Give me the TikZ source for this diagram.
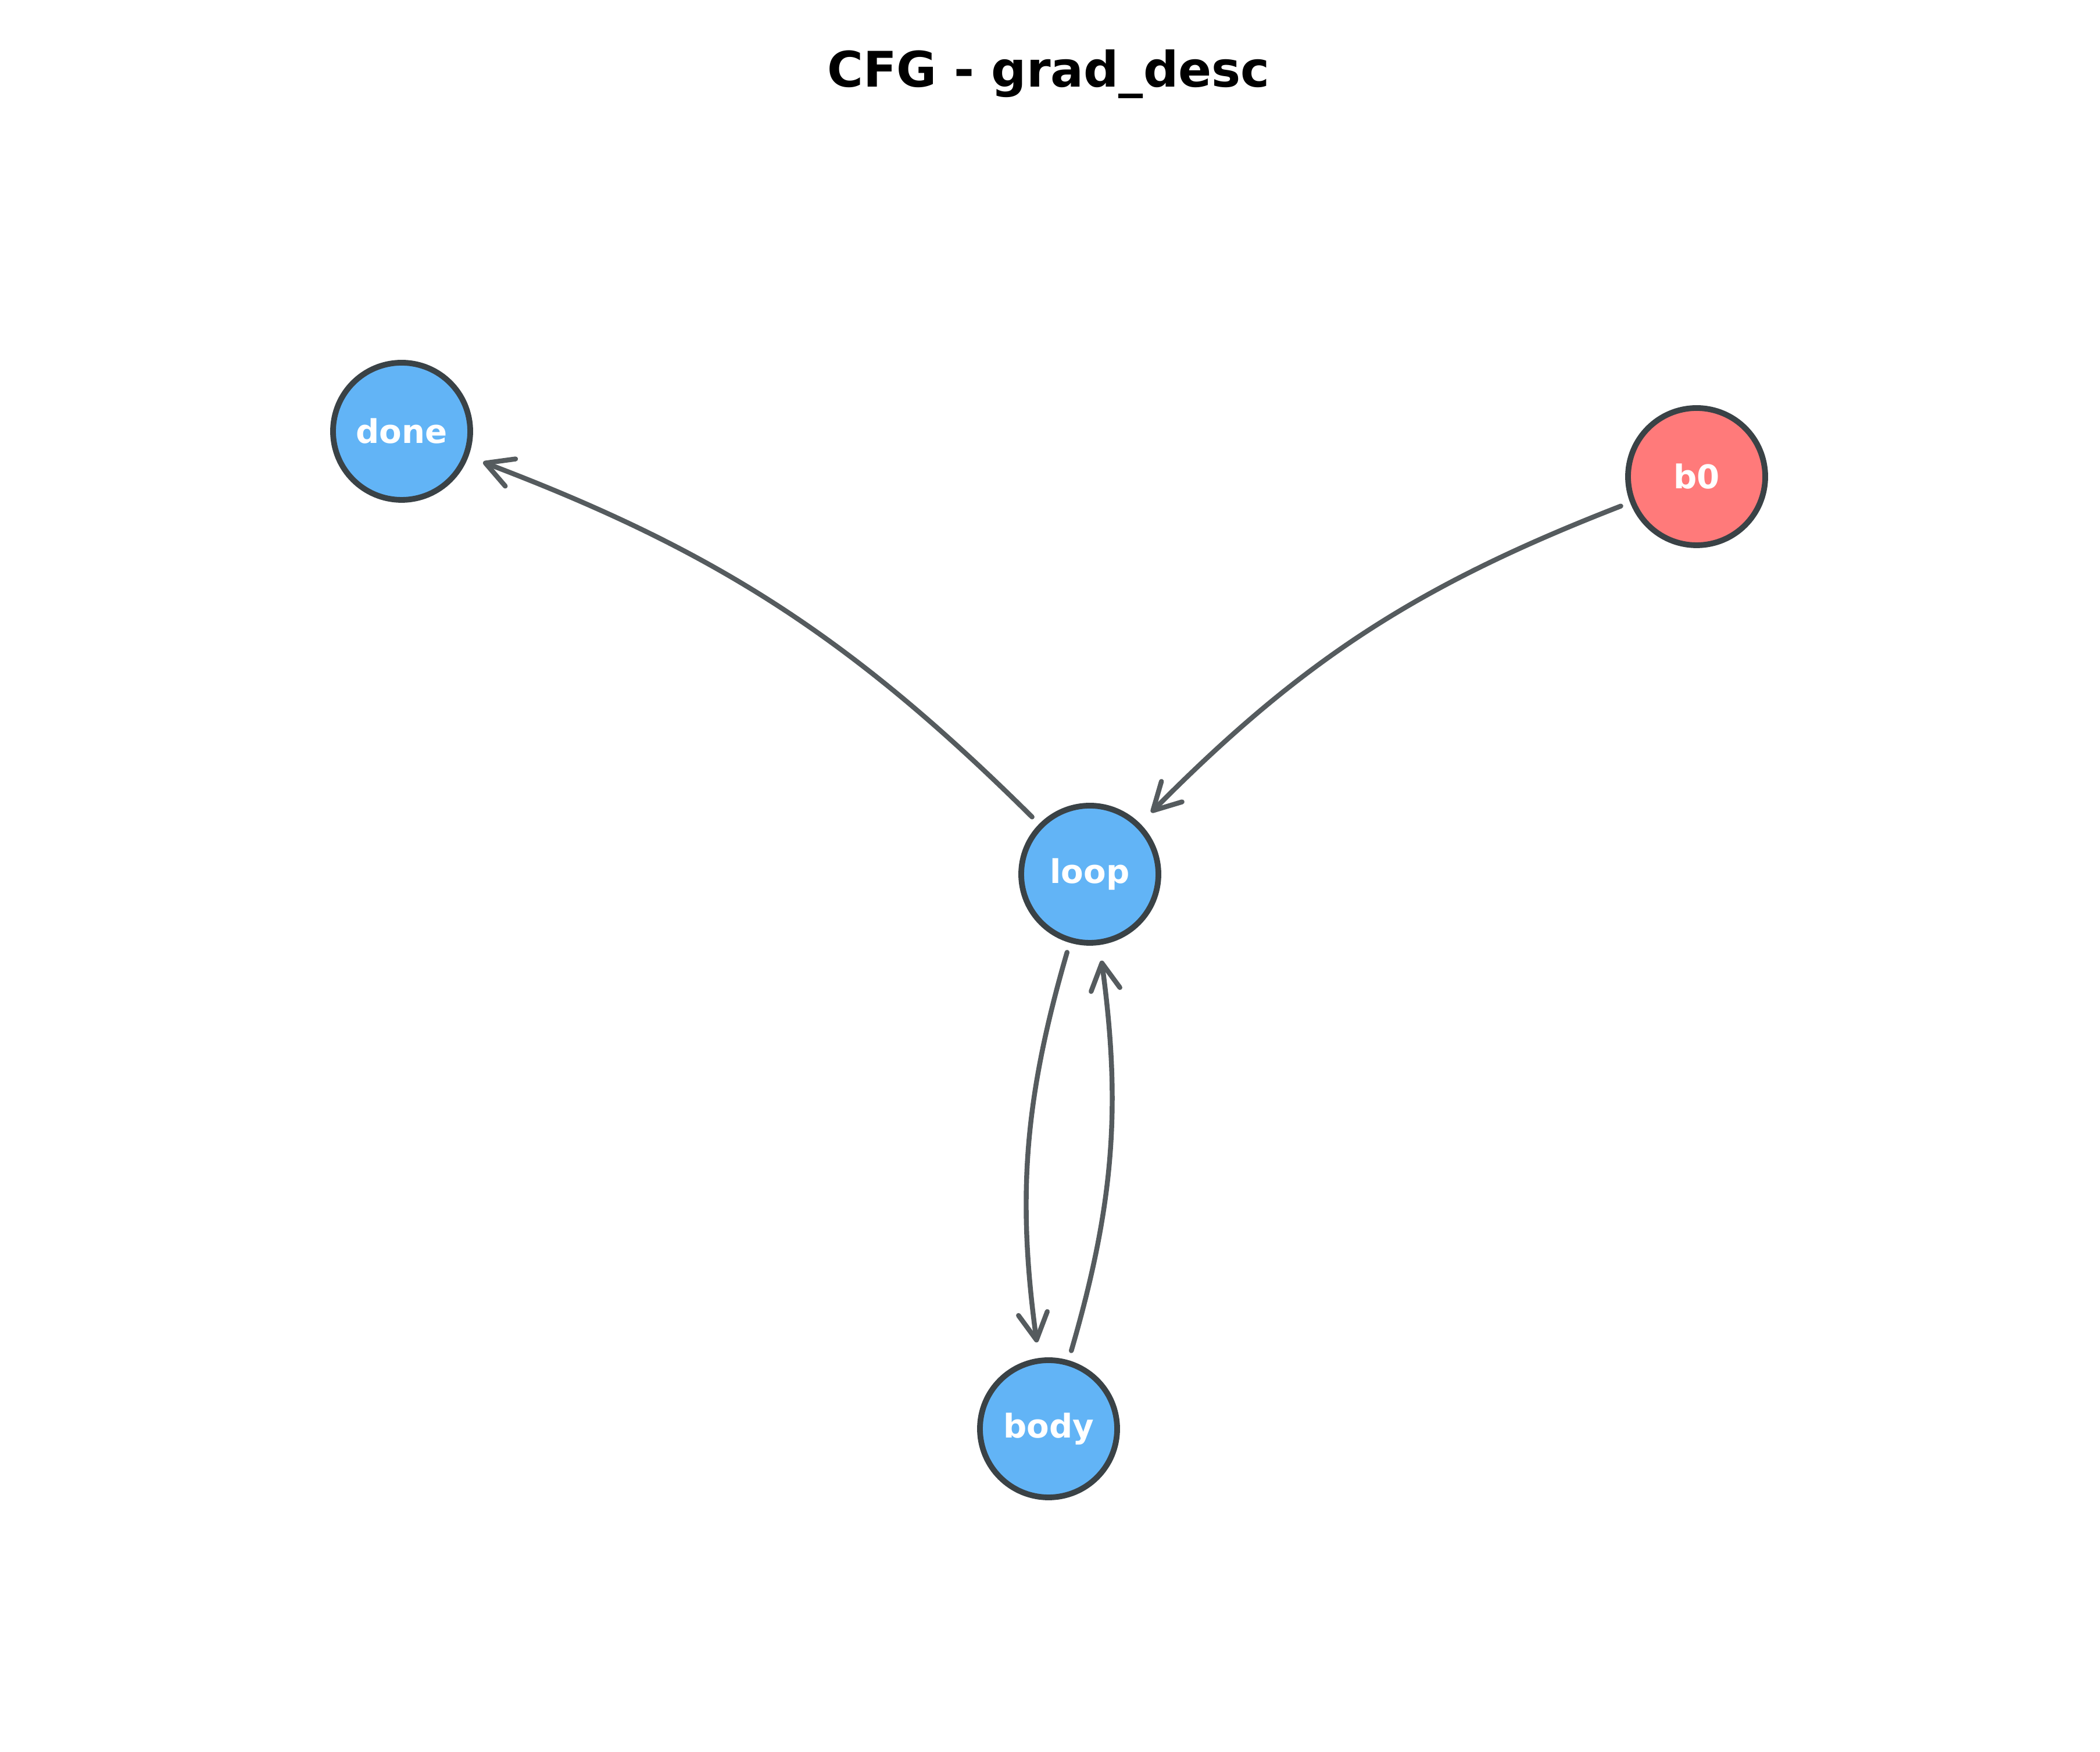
\documentclass[tikz,border=0pt]{standalone}
\usepackage{fontspec}
\setmainfont{DejaVu Sans}
\usetikzlibrary{arrows.meta}

\definecolor{blockblue}{HTML}{62B4F6}
\definecolor{blockred}{HTML}{FF7A7A}
\definecolor{bordergray}{HTML}{3A4246}
\definecolor{edgegray}{HTML}{555B5E}

\begin{document}
\begin{tikzpicture}

\tikzstyle{blk} = [circle, minimum size=2.36cm, inner sep=0pt, draw=bordergray, line width=2.8pt, text=white, font=\fontsize{16}{19}\selectfont\bfseries]
\tikzstyle{flow} = [draw=edgegray, line width=2.4pt, line cap=round, -{Straight Barb[length=4.6mm,width=5mm,round]}, shorten <=0.17cm, shorten >=0.27cm]

\useasboundingbox (0,0) rectangle (36.13,30.14);
\node (title) at (18.04,28.87) {\fontsize{24}{29}\selectfont\bfseries CFG - grad\_desc};
\node (done) [blk, fill=blockblue] at (6.91,22.72) {done};
\node (b0) [blk, fill=blockred] at (29.19,21.94) {b0};
\node (loop) [blk, fill=blockblue] at (18.75,15.10) {loop};
\node (body) [blk, fill=blockblue] at (18.04,5.56) {body};
\draw [flow] (b0) to[bend right=12] (loop);
\draw [flow] (loop) to[bend right=12] (done);
\draw [flow] (loop) to[bend right=12] (body);
\draw [flow] (body) to[bend right=12] (loop);
\end{tikzpicture}
\end{document}
